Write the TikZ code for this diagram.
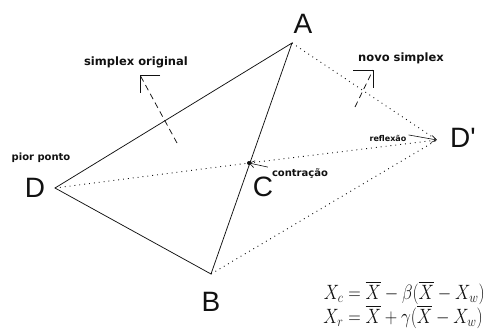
\documentclass[tikz,border=0pt]{standalone}
\usepackage{fontspec}
\usepackage{amsmath}
\usetikzlibrary{arrows.meta}
\newfontfamily\sxLetterFont{Liberation Sans}
\newfontfamily\sxNoteFont{DejaVu Sans}
\definecolor{sxInk}{HTML}{111111}
\newcommand{\SXLetter}{\sxLetterFont\fontsize{28}{30}\selectfont}
\newcommand{\SXNote}{\sxNoteFont\bfseries\fontsize{11.5}{13}\selectfont}
\tikzset{sx/base/.style={x=1pt,y=1pt,line cap=butt,line join=miter,
  every node/.style={inner sep=0pt,text=sxInk}},
  sx/edge/.style={draw=sxInk,line width=.75pt},
  sx/trial/.style={draw=sxInk,line width=.9pt,dash pattern=on .9pt off 4pt},
  sx/pointer/.style={draw=sxInk,line width=.75pt,dash pattern=on 6pt off 4pt},
  sx/corner/.style={draw=sxInk,line width=.75pt},
  sx/tip/.style={draw=sxInk,line width=.6pt,-{Straight Barb[length=5pt,width=7pt]}},
  sx/vertex/.style={font=\SXLetter},
  sx/note/.style={font=\SXNote,anchor=base}}

\begin{document}
\begin{tikzpicture}[sx/base,y=-1pt]
  \useasboundingbox (0,0) rectangle (493,330);
  % corners of the simplex and the trial points
  \coordinate (A) at (292,43);
  \coordinate (B) at (211,274);
  \coordinate (D) at (55,188);
  \coordinate (Dr) at (437,140);
  \coordinate (C) at (249,163);
  % original simplex, then the reflected one
  \draw[sx/edge] (D)--(A)--(B)--cycle;
  \draw[sx/trial] (A)--(Dr)--(B);
  \draw[sx/trial] (D)--(C)--(Dr);
  \fill[sxInk] (C) circle (2pt);
  \node[sx/vertex] (labA) at (303,24) {A};
  \node[sx/vertex] (labB) at (211,302) {B};
  \node[sx/vertex] (labC) at (263,187) {C};
  \node[sx/vertex] (labD) at (35,188) {D};
  \node[sx/vertex] (labDr) at (463,138) {D'};
  \node[sx/note,font=\sxNoteFont\bfseries\fontsize{10}{12}\selectfont] (worst) at (41,160) {pior ponto};
  \node[sx/note] (old) at (136,65) {simplex original};
  \node[sx/note] (new) at (401,61) {novo simplex};
  \node[sx/note,font=\sxNoteFont\bfseries\fontsize{8}{9}\selectfont] (refl) at (388,141) {reflexão};
  \node[sx/note,font=\sxNoteFont\bfseries\fontsize{10}{12}\selectfont] (contr) at (300,176) {contração};
  \draw[sx/tip] (refl.east)++(2,-3)--(Dr);
  \draw[sx/tip] (contr.west)++(-4,-6)--(C);
  % dashed pointers with square heads
  \coordinate (oldFoot) at (177,143);
  \coordinate (oldHead) at (140,75);
  \draw[sx/pointer] (oldFoot)--(oldHead);
  \draw[sx/corner] (oldHead) ++(20,0)--(oldHead)--++(0,18);
  \coordinate (newFoot) at (355,107);
  \coordinate (newHead) at (373,70);
  \draw[sx/pointer] (newFoot)--(newHead);
  \draw[sx/corner] (newHead) ++(-20,0)--(newHead)--++(0,18);
  \node[font=\fontsize{18.5}{22}\selectfont,yscale=1.2,transform shape] (rules) at (404,306)
    {$\begin{aligned}
      X_c &= \overline{X}-\beta(\overline{X}-X_w)\\[-5pt]
      X_r &= \overline{X}+\gamma(\overline{X}-X_w)
    \end{aligned}$};
\end{tikzpicture}
\end{document}
